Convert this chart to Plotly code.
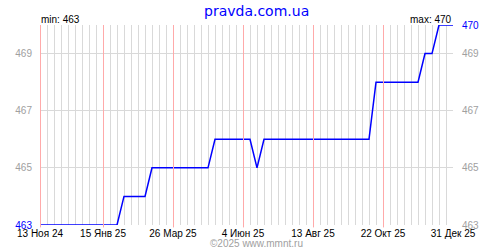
import pandas as pd
import plotly.graph_objects as go

# weekly observations
dates = pd.date_range("2024-11-13", periods=60, freq="7D")
values = [
    463, 463, 463, 463, 463, 463, 463, 463, 463, 463, 463, 463,
    464, 464, 464, 464,
    465, 465, 465, 465, 465, 465, 465, 465, 465,
    466, 466, 466, 466, 466, 466,
    465,
    466, 466, 466, 466, 466, 466, 466, 466, 466, 466, 466, 466, 466, 466, 466, 466,
    468, 468, 468, 468, 468, 468, 468,
    469, 469,
    470, 470, 470,
]

x_tick_dates = ["2024-11-13", "2025-01-15", "2025-03-26", "2025-06-04",
                "2025-08-13", "2025-10-22", "2025-12-31"]
x_tick_text = ["13 Ноя 24", "15 Янв 25", "26 Мар 25", "4 Июн 25",
               "13 Авг 25", "22 Окт 25", "31 Дек 25"]
y_left_vals = [463, 465, 467, 469]
y_right_vals = [463, 465, 467, 469, 470]

BLUE = "#0000ff"
GRAY_TXT = "#a0a0a0"
GRID = "#d9d9d9"
RED_GRID = "#ffaaaa"
ymin, ymax = min(values), max(values)

major = set(pd.to_datetime(x_tick_dates))
week_ticks = [d for d in dates if d not in major]


def ylab(v):
    if v in (ymin, ymax):
        return f'<span style="color:{BLUE}">{v}</span>'
    return str(v)


fig = go.Figure()
fig.add_trace(go.Scatter(x=dates, y=values, mode="lines",
                         line=dict(color=BLUE, width=1.5), hoverinfo="skip"))
fig.add_trace(go.Scatter(x=dates, y=values, mode="lines", yaxis="y2",
                         line=dict(color=BLUE, width=0), opacity=0, hoverinfo="skip"))

FONT = "Liberation Sans, Arial, sans-serif"
xr = [x_tick_dates[0], x_tick_dates[-1]]
fig.update_layout(
    width=500, height=250,
    margin=dict(l=40, r=47, t=25, b=25),
    paper_bgcolor="white", plot_bgcolor="white",
    showlegend=False,
    font=dict(family=FONT, size=10, color="black"),
    xaxis=dict(
        type="date", range=xr,
        tickmode="array", tickvals=x_tick_dates, ticktext=x_tick_text,
        showgrid=False,
        minor=dict(tickmode="array", tickvals=week_ticks, showgrid=True,
                   gridcolor=GRID, gridwidth=1, ticks=""),
        showline=False, zeroline=False, ticks="",
        tickfont=dict(family=FONT, size=10, color="black"),
        ticklabelstandoff=1,
    ),
    yaxis=dict(
        range=[ymin, ymax],
        tickmode="array", tickvals=y_left_vals,
        ticktext=[ylab(v) for v in y_left_vals],
        showgrid=False, zeroline=False, showline=False, ticks="",
        tickfont=dict(family=FONT, size=10, color=GRAY_TXT),
        ticklabelstandoff=7,
    ),
    yaxis2=dict(
        range=[ymin, ymax], overlaying="y", side="right",
        tickmode="array", tickvals=y_right_vals,
        ticktext=[ylab(v) if v == ymax else str(v) for v in y_right_vals],
        showgrid=True, gridcolor=GRID, gridwidth=1,
        zeroline=False, showline=False, ticks="",
        tickfont=dict(family=FONT, size=10, color=GRAY_TXT),
        ticklabelstandoff=8,
    ),
)

# red marker lines at the labelled dates (shifted half a pixel for crispness)
half_px = pd.Timedelta(hours=12)
for d in pd.to_datetime(x_tick_dates):
    xd = (d + half_px).isoformat()
    fig.add_shape(type="line", xref="x", yref="paper", x0=xd, x1=xd,
                  y0=-0.012, y1=1, line=dict(color=RED_GRID, width=1),
                  layer="above")

fig.add_annotation(text="pravda.com.ua", xref="paper", yref="paper",
                   x=(256.5-40)/413, y=(225-11)/200, xanchor="center", yanchor="middle",
                   showarrow=False, font=dict(family="DejaVu Sans, sans-serif", size=14, color=BLUE))
fig.add_annotation(text=f"min: {ymin}", xref="paper", yref="paper",
                   x=0, y=(225-19.5)/200, xanchor="left", yanchor="middle",
                   xshift=-1, showarrow=False, font=dict(family=FONT, size=10, color="black"))
fig.add_annotation(text=f"max: {ymax}", xref="paper", yref="paper",
                   x=1, y=(225-19.5)/200, xanchor="right", yanchor="middle",
                   xshift=1, showarrow=False, font=dict(family=FONT, size=10, color="black"))
fig.add_annotation(text="©2025 www.mmnt.ru", xref="paper", yref="paper",
                   x=(256-40)/413, y=(225-243)/200, xanchor="center", yanchor="middle",
                   showarrow=False, font=dict(family=FONT, size=10, color=GRAY_TXT))

fig.write_html("out.html")
